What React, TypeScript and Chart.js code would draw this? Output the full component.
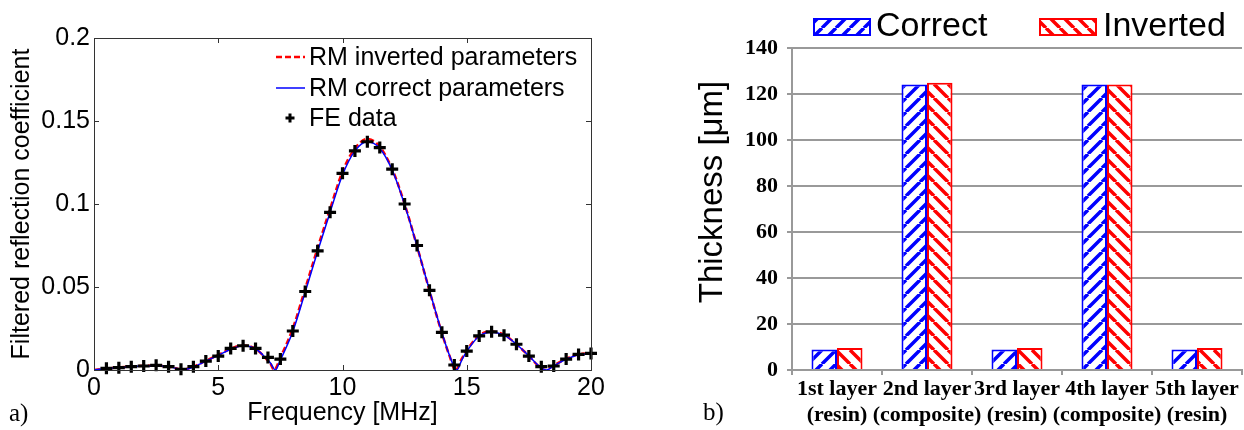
import React, { useEffect, useRef } from 'react';
import { Chart, registerables } from 'chart.js';

Chart.register(...registerables);

// ---------- Panel a) data ----------
const feFreq = [0.5, 1, 1.5, 2, 2.5, 3, 3.5, 4, 4.5, 5, 5.5, 6, 6.5, 7, 7.5, 8, 8.5, 9, 9.5, 10,
  10.5, 11, 11.5, 12, 12.5, 13, 13.5, 14, 14.5, 15, 15.5, 16, 16.5, 17, 17.5, 18, 18.5, 19, 19.5, 20];
const feValues = [0.001, 0.0014, 0.002, 0.0024, 0.0028, 0.002, 0.0004, 0.002, 0.0054, 0.0084,
  0.013, 0.0146, 0.013, 0.0076, 0.0066, 0.0235, 0.0473, 0.0718, 0.095, 0.1185,
  0.132, 0.1375, 0.134, 0.121, 0.1, 0.075, 0.048, 0.0227, 0.003, 0.0114,
  0.0205, 0.023, 0.021, 0.0155, 0.0084, 0.002, 0.0024, 0.0066, 0.0094, 0.01];

const rmCorrectFreq = [0, 0.5, 1, 1.5, 2, 2.5, 3, 3.3, 3.6, 3.9, 4.25, 4.5, 5, 5.5, 6, 6.5, 6.9, 7.1, 7.3,
  7.5, 8, 8.5, 9, 9.5, 10, 10.5, 11, 11.5, 12, 12.5, 13, 13.5, 14, 14.3, 14.6, 14.8, 15, 15.5, 16,
  16.5, 17, 17.5, 17.9, 18.2, 18.5, 19, 19.5, 20];
const rmCorrectValues = [0, 0.0009, 0.0014, 0.002, 0.0024, 0.0026, 0.002, 0.001, 0.0002, 0.0012, 0.0035,
  0.0054, 0.0088, 0.0125, 0.0146, 0.0128, 0.0075, 0.0042, 0, 0.006, 0.0232, 0.047, 0.0715, 0.095,
  0.1175, 0.132, 0.1375, 0.1335, 0.1205, 0.0995, 0.0745, 0.048, 0.0225, 0.009, 0, 0.006, 0.0112,
  0.0205, 0.0228, 0.021, 0.0155, 0.0085, 0.0025, 0, 0.0025, 0.0065, 0.0092, 0.0098];

const rmInvertedFreq = [0, 0.5, 1, 1.5, 2, 2.5, 3, 3.3, 3.55, 3.9, 4.25, 4.5, 5, 5.5, 6, 6.5, 6.9, 7.1, 7.25,
  7.5, 8, 8.5, 9, 9.5, 10, 10.5, 11, 11.5, 12, 12.5, 13, 13.5, 14, 14.3, 14.55, 14.8, 15, 15.5, 16,
  16.5, 17, 17.5, 17.9, 18.15, 18.5, 19, 19.5, 20];
const rmInvertedValues = [0, 0.001, 0.0015, 0.0021, 0.0025, 0.0027, 0.002, 0.001, 0.0002, 0.0014, 0.0037,
  0.0056, 0.009, 0.0128, 0.0148, 0.0128, 0.0072, 0.0038, 0, 0.0075, 0.025, 0.049, 0.0735, 0.097,
  0.1195, 0.1335, 0.1392, 0.1345, 0.121, 0.1, 0.0745, 0.0478, 0.0222, 0.0088, 0, 0.0068, 0.0118,
  0.021, 0.0232, 0.0212, 0.0155, 0.0084, 0.0022, 0, 0.0028, 0.0068, 0.0095, 0.01];

const freqTickLabels = ['0', '5', '10', '15', '20'];
const coefTickLabels = ['0', '0.05', '0.1', '0.15', '0.2'];

// ---------- Panel b) data ----------
const layerLabels = [
  ['1st layer', '(resin)'],
  ['2nd layer', '(composite)'],
  ['3rd layer', '(resin)'],
  ['4th layer', '(composite)'],
  ['5th layer', '(resin)'],
];
const correctThickness = [8.9, 124.1, 8.9, 124.1, 8.9];
const invertedThickness = [9.6, 124.9, 9.6, 124.1, 9.6];
const thicknessTickLabels = ['0', '20', '40', '60', '80', '100', '120', '140'];

const SANS = "'Liberation Sans', Arial, sans-serif";
const SERIF = "'Liberation Serif', 'Times New Roman', serif";

function makeHatch(color: string, forward: boolean, size = 14, lw = 3.5): CanvasPattern {
  const c = document.createElement('canvas');
  c.width = size;
  c.height = size;
  const g = c.getContext('2d')!;
  g.fillStyle = '#ffffff';
  g.fillRect(0, 0, size, size);
  g.strokeStyle = color;
  g.lineWidth = lw;
  g.beginPath();
  for (let k = -1; k <= 1; k++) {
    if (forward) {
      g.moveTo(k * size, size);
      g.lineTo(k * size + size, 0);
    } else {
      g.moveTo(k * size, 0);
      g.lineTo(k * size + size, size);
    }
  }
  g.stroke();
  return g.createPattern(c, 'repeat')!;
}

const toXY = (xs: number[], ys: number[]) => xs.map((x, i) => ({ x, y: ys[i] }));

export default function App() {
  const leftRef = useRef<HTMLCanvasElement>(null);
  const rightRef = useRef<HTMLCanvasElement>(null);

  useEffect(() => {
    const leftDecor = {
      id: 'leftDecor',
      afterDraw(chart: any) {
        const { ctx, chartArea: a, scales } = chart;
        ctx.save();
        ctx.strokeStyle = '#333333';
        ctx.lineWidth = 1;
        ctx.beginPath();
        scales.x.ticks.forEach((t: any) => {
          const px = Math.round(scales.x.getPixelForValue(t.value)) + 0.5;
          ctx.moveTo(px, a.bottom);
          ctx.lineTo(px, a.bottom - 5);
          ctx.moveTo(px, a.top);
          ctx.lineTo(px, a.top + 5);
        });
        scales.y.ticks.forEach((t: any) => {
          const py = Math.round(scales.y.getPixelForValue(t.value)) + 0.5;
          ctx.moveTo(a.left, py);
          ctx.lineTo(a.left + 5, py);
          ctx.moveTo(a.right, py);
          ctx.lineTo(a.right - 5, py);
        });
        ctx.stroke();
        ctx.strokeRect(Math.round(a.left) + 0.5, Math.round(a.top) + 0.5,
          Math.round(a.right - a.left), Math.round(a.bottom - a.top));

        // legend (inside, top-right, no box)
        const ds = chart.data.datasets;
        const order = [2, 1, 0];
        const x0 = a.right - 315;
        const ys = [a.top + 19, a.top + 50, a.top + 80];
        ctx.font = `25px ${SANS}`;
        ctx.textBaseline = 'middle';
        ctx.textAlign = 'left';
        order.forEach((di, i) => {
          const d = ds[di];
          const y = ys[i];
          if (d.showLine === false) {
            ctx.strokeStyle = d.borderColor;
            ctx.lineWidth = 3;
            ctx.setLineDash([]);
            ctx.beginPath();
            ctx.moveTo(x0 + 14 - 4.5, y);
            ctx.lineTo(x0 + 14 + 4.5, y);
            ctx.moveTo(x0 + 14, y - 4.5);
            ctx.lineTo(x0 + 14, y + 4.5);
            ctx.stroke();
          } else {
            ctx.strokeStyle = d.borderColor;
            ctx.lineWidth = d.borderWidth;
            ctx.setLineDash(d.borderDash || []);
            ctx.beginPath();
            ctx.moveTo(x0, y);
            ctx.lineTo(x0 + 29, y);
            ctx.stroke();
            ctx.setLineDash([]);
          }
          ctx.fillStyle = '#000';
          ctx.fillText(d.label, x0 + 33, y + 1);
        });

        ctx.font = `25px ${SERIF}`;
        ctx.textBaseline = 'alphabetic';
        ctx.fillStyle = '#000';
        ctx.fillText('a)', 9, 421);
        ctx.restore();
      },
    };

    const left = new Chart(leftRef.current!, {
      type: 'line',
      data: {
        datasets: [
          {
            label: 'FE data',
            data: toXY(feFreq, feValues),
            showLine: false,
            borderColor: '#000000',
            backgroundColor: '#000000',
            pointStyle: 'cross',
            pointRadius: 6,
            pointBorderWidth: 3.2,
            pointBorderColor: '#000000',
            clip: false,
            order: 0,
          },
          {
            label: 'RM correct parameters',
            data: toXY(rmCorrectFreq, rmCorrectValues),
            borderColor: '#0000ff',
            borderWidth: 1.5,
            pointRadius: 0,
            cubicInterpolationMode: 'monotone',
            order: 1,
          },
          {
            label: 'RM inverted parameters',
            data: toXY(rmInvertedFreq, rmInvertedValues),
            borderColor: '#ff0000',
            borderWidth: 2.5,
            borderDash: [6, 3],
            pointRadius: 0,
            cubicInterpolationMode: 'monotone',
            order: 2,
          },
        ] as any,
      },
      options: {
        responsive: false,
        animation: false,
        devicePixelRatio: 1,
        layout: { padding: { left: 0, top: 38, right: 49, bottom: 0 } },
        plugins: { legend: { display: false }, tooltip: { enabled: false } },
        scales: {
          x: {
            type: 'linear',
            min: 0,
            max: 20,
            afterFit: (s: any) => { s.height = 60; },
            grid: { display: false, drawTicks: false },
            border: { display: false },
            ticks: {
              stepSize: 5,
              padding: 3,
              maxRotation: 0,
              color: '#000',
              font: { family: SANS, size: 25 },
              callback: (_v: any, i: number) => freqTickLabels[i],
            },
            title: {
              display: true,
              text: 'Frequency [MHz]',
              color: '#000',
              font: { family: SANS, size: 25 },
              padding: { top: 0, bottom: 2 },
            },
          },
          y: {
            min: 0,
            max: 0.2,
            afterFit: (s: any) => { s.width = 94; },
            grid: { display: false, drawTicks: false },
            border: { display: false },
            ticks: {
              stepSize: 0.05,
              padding: 4,
              color: '#000',
              font: { family: SANS, size: 25 },
              callback: (_v: any, i: number) => coefTickLabels[i],
            },
            title: {
              display: true,
              text: 'Filtered reflection coefficient',
              color: '#000',
              font: { family: SANS, size: 25 },
              padding: { top: 7, bottom: 0 },
            },
          },
        },
      } as any,
      plugins: [leftDecor],
    });

    const blueHatch = makeHatch('#0000ff', true);
    const redHatch = makeHatch('#ff0000', false);

    const rightDecor = {
      id: 'rightDecor',
      afterDraw(chart: any) {
        const { ctx } = chart;
        const ds = chart.data.datasets;
        ctx.save();
        const items = [
          { bx: 173, tx: 236 },
          { bx: 399, tx: 463 },
        ];
        items.forEach((it, i) => {
          const d = ds[i];
          ctx.fillStyle = d.backgroundColor;
          ctx.fillRect(it.bx, 18, 58, 18);
          ctx.strokeStyle = d.borderColor;
          ctx.lineWidth = 2;
          ctx.strokeRect(it.bx + 1, 19, 56, 16);
          ctx.fillStyle = '#000';
          ctx.font = `34px ${SANS}`;
          ctx.textBaseline = 'alphabetic';
          ctx.textAlign = 'left';
          ctx.fillText(d.label, it.tx, 35.5);
        });

        ctx.translate(73, 192);
        ctx.rotate(-Math.PI / 2);
        ctx.font = `33px ${SANS}`;
        ctx.textAlign = 'center';
        ctx.textBaseline = 'middle';
        ctx.fillStyle = '#000';
        ctx.fillText('Thickness [\u03bcm]', 0, 0);
        ctx.restore();

        ctx.save();
        ctx.font = `25px ${SERIF}`;
        ctx.fillStyle = '#000';
        ctx.textBaseline = 'alphabetic';
        ctx.fillText('b)', 63, 420);
        ctx.restore();
      },
    };

    const right = new Chart(rightRef.current!, {
      type: 'bar',
      data: {
        labels: layerLabels,
        datasets: [
          {
            label: 'Correct',
            data: correctThickness,
            backgroundColor: blueHatch,
            borderColor: '#0000ff',
            borderWidth: 2,
            categoryPercentage: 0.567,
            barPercentage: 1,
          },
          {
            label: 'Inverted',
            data: invertedThickness,
            backgroundColor: redHatch,
            borderColor: '#ff0000',
            borderWidth: 2,
            categoryPercentage: 0.567,
            barPercentage: 1,
          },
        ] as any,
      },
      options: {
        responsive: false,
        animation: false,
        devicePixelRatio: 1,
        layout: { padding: { left: 0, top: 48, right: 2, bottom: 0 } },
        plugins: { legend: { display: false }, tooltip: { enabled: false } },
        scales: {
          x: {
            afterFit: (s: any) => { s.height = 60; },
            grid: {
              display: true,
              drawOnChartArea: false,
              drawTicks: true,
              tickLength: 5,
              color: '#999999',
              lineWidth: 2,
              offset: true,
            },
            border: { display: true, color: '#999999', width: 2 },
            ticks: {
              padding: 1,
              maxRotation: 0,
              autoSkip: false,
              color: '#000',
              font: { family: SERIF, size: 22, weight: 'bold', lineHeight: 1.2 },
            },
          },
          y: {
            min: 0,
            max: 140,
            afterFit: (s: any) => { s.width = 152; },
            grid: {
              color: '#999999',
              lineWidth: 2,
              drawTicks: true,
              tickLength: 5,
            },
            border: { display: true, color: '#999999', width: 2 },
            ticks: {
              stepSize: 20,
              padding: 9,
              color: '#000',
              font: { family: SERIF, size: 22, weight: 'bold' },
              callback: (_v: any, i: number) => thicknessTickLabels[i],
            },
          },
        },
      } as any,
      plugins: [rightDecor],
    });

    return () => {
      left.destroy();
      right.destroy();
    };
  }, []);

  return (
    <div style={{ position: 'absolute', left: 0, top: 0, width: 1244, height: 430, background: '#ffffff' }}>
      <canvas
        ref={leftRef}
        width={640}
        height={430}
        style={{ position: 'absolute', left: 0, top: 0, width: 640, height: 430 }}
      />
      <canvas
        ref={rightRef}
        width={604}
        height={430}
        style={{ position: 'absolute', left: 640, top: 0, width: 604, height: 430 }}
      />
    </div>
  );
}
